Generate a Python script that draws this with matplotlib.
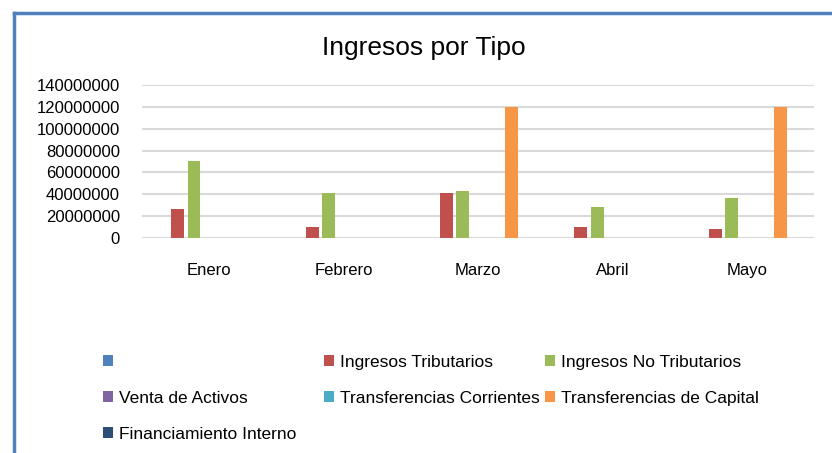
import matplotlib
matplotlib.use("Agg")
import matplotlib.pyplot as plt
from matplotlib.patches import Patch
from matplotlib.lines import Line2D
import numpy as np

plt.rcParams['font.family'] = ['Liberation Sans', 'DejaVu Sans']

months = ["Enero", "Febrero", "Marzo", "Abril", "Mayo"]
series_names = ["", "Ingresos Tributarios", "Ingresos No Tributarios",
                "Venta de Activos", "Transferencias Corrientes",
                "Transferencias de Capital", "Financiamiento Interno"]
blank_vals = [0, 0, 0, 0, 0]
tributarios = [26300000, 9800000, 41600000, 10400000, 8300000]
no_tributarios = [70400000, 41300000, 42800000, 28700000, 36400000]
venta_activos = [0, 0, 0, 0, 0]
transf_corrientes = [0, 0, 0, 0, 0]
transf_capital = [0, 0, 120000000, 0, 120000000]
financiamiento = [0, 0, 0, 0, 0]
yticks = [0, 20000000, 40000000, 60000000, 80000000, 100000000, 120000000, 140000000]

colors = ["#4F81BD", "#C0504D", "#9BBB59", "#8064A2", "#4BACC6", "#F79646", "#2C4D75"]
all_vals = [blank_vals, tributarios, no_tributarios, venta_activos,
            transf_corrientes, transf_capital, financiamiento]

fig = plt.figure(figsize=(8.32, 4.53), dpi=100)
ax = fig.add_axes([142/832, 1-238/453, (814-142)/832, (238-85)/453])

x = np.arange(len(months))
slot = 0.121
for i, (vals, c, name) in enumerate(zip(all_vals, colors, series_names)):
    ax.bar(x + (i-3)*slot + 0.008, vals, width=0.096, color=c, edgecolor='none',
           linewidth=0, zorder=3, label=name)

ax.set_xlim(-0.5, len(months)-0.5)
ax.set_ylim(0, 140000000)
ax.set_yticks(yticks)
ax.set_yticklabels([str(v) for v in yticks], fontsize=12)
ax.set_xticks(x)
ax.set_xticklabels(months, fontsize=12)
ax.tick_params(axis='both', length=0)
ax.tick_params(axis='x', pad=18)
ax.tick_params(axis='y', pad=16)
ax.grid(axis='y', color='#D9D9D9', linewidth=1.5, zorder=0)
for s in ax.spines.values():
    s.set_visible(False)

fig.text(424/832, 1-48/453, "Ingresos por Tipo", fontsize=19,
         ha='center', va='center')

# legend in three columns
handles = [Patch(facecolor=c, edgecolor='none') for c in colors]
cols = [[0, 3, 6], [1, 4], [2, 5]]
col_x = [103, 324, 545]
for cx, idx in zip(col_x, cols):
    fig.legend([handles[i] for i in idx], [series_names[i] for i in idx],
               loc='upper left', bbox_to_anchor=(cx/832, 1-355/453),
               frameon=False, fontsize=12.5, handlelength=0.6,
               handleheight=0.6, handletextpad=0.3,
               labelspacing=1.2, borderpad=0, borderaxespad=0)

# chart frame border
fig.add_artist(Line2D([14/832, 1.0], [1-13/453, 1-13/453],
                      transform=fig.transFigure, color='#4F81BD', linewidth=2.5))
fig.add_artist(Line2D([14/832, 14/832], [0, 1-13/453],
                      transform=fig.transFigure, color='#4F81BD', linewidth=2.5))

fig.savefig("out.png", dpi=100)
